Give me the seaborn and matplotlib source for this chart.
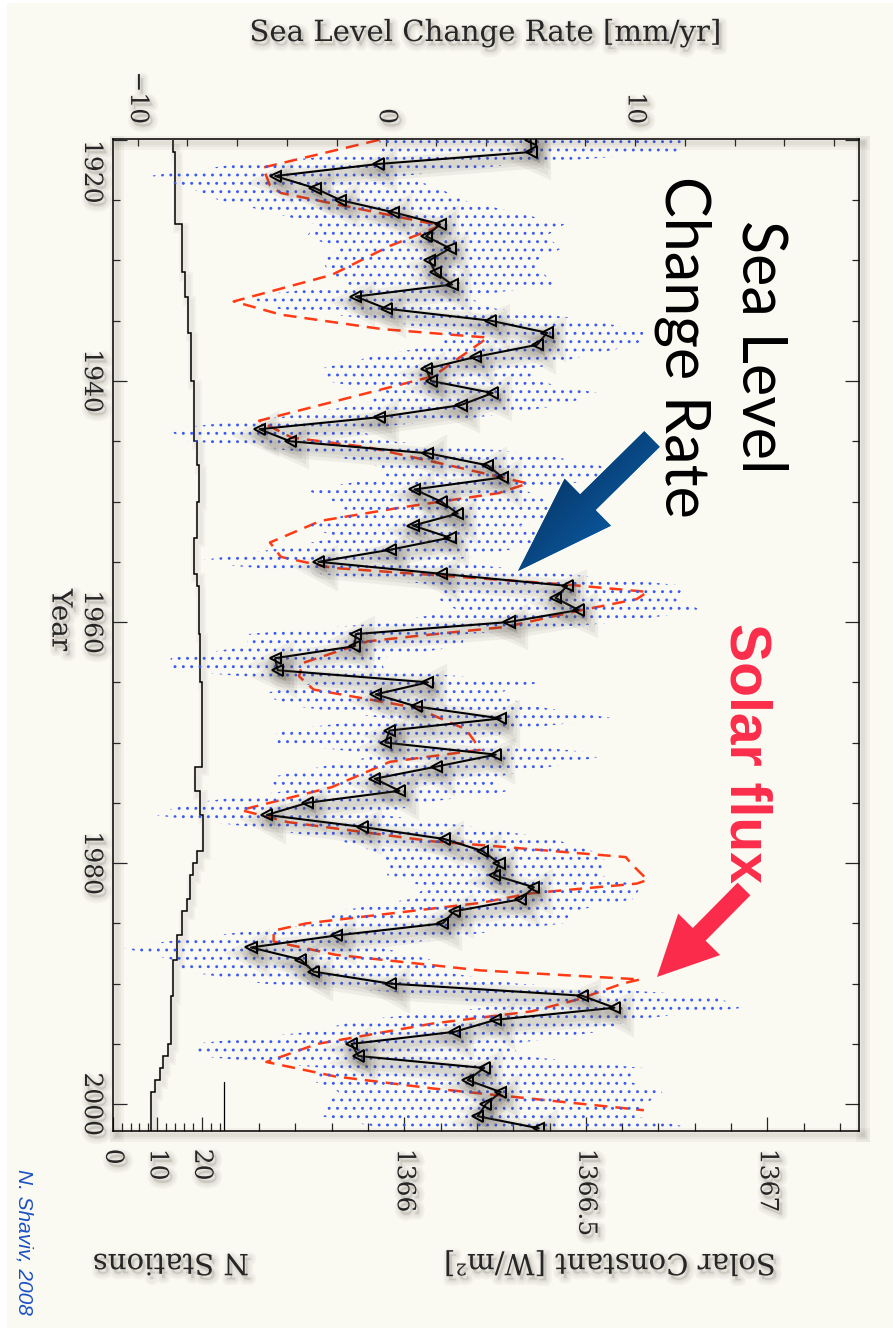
"""
Sea level change rate vs. solar constant (rotated IDL-style figure)
Libraries: numpy, matplotlib, seaborn
"""

import numpy as np
import matplotlib
matplotlib.use("Agg")
import matplotlib.pyplot as plt
import matplotlib.patheffects as pe
import matplotlib.colors as mcolors
from matplotlib.patches import FancyArrow, Rectangle
from matplotlib.colors import LinearSegmentedColormap
from matplotlib.ticker import FixedLocator, FixedFormatter, NullFormatter
import seaborn as sns

# ---- data ----
YEARS = list(range(1920, 2003))

# sea level change rate [mm/yr], one value per year
SEA_LEVEL = [5.80, 5.84, -0.33, -4.47, -2.87, -1.84, 0.27, 2.16, 1.60, 2.56,
             1.73, 1.97, 2.64, -1.23, 0.00, 4.20, 6.46, 6.06, 3.60, 1.60,
             1.80, 4.27, 3.00, -0.27, -5.10, -3.87, 1.67, 4.07, 4.67, 1.13,
             2.20, 2.87, 1.07, 2.56, 0.16, -2.73, 2.20, 7.27, 6.80, 7.73,
             4.93, -1.23, -1.27, -4.47, -4.37, 1.67, -0.43, 1.20, 4.60, 0.13,
             -0.04, 4.40, 2.00, -0.47, 0.53, -3.17, -4.80, -0.96, 2.33, 3.87,
             4.53, 4.33, 5.93, 5.40, 2.73, 2.27, -2.00, -5.44, -3.44, -2.93,
             0.16, 7.87, 9.17, 4.40, 2.73, -1.40, -1.13, 3.93, 3.27, 4.60,
             4.00, 3.67, 6.13]

# half width of the dotted uncertainty band [mm/yr]
SEA_ERR = [6.1, 6.0, 5.6, 5.1, 5.0, 4.9, 4.9, 5.0, 4.8, 4.5,
           4.3, 4.3, 4.2, 4.4, 4.4, 4.2, 4.0, 4.0, 4.2, 4.3,
           4.2, 4.2, 4.1, 4.0, 3.8, 4.0, 4.3, 4.5, 4.6, 4.4,
           4.3, 4.3, 4.3, 4.5, 4.8, 5.1, 4.9, 4.8, 4.8, 4.9,
           4.6, 4.4, 4.3, 4.2, 4.3, 4.5, 4.7, 4.8, 4.6, 4.5,
           4.5, 4.6, 4.6, 4.5, 4.5, 4.6, 4.6, 4.5, 4.4, 4.4,
           4.4, 4.3, 4.3, 4.5, 4.7, 4.9, 5.0, 5.2, 5.2, 5.1,
           5.1, 5.2, 5.2, 5.4, 5.8, 6.4, 6.5, 6.4, 6.3, 6.5,
           6.4, 6.3, 6.2]

# number of tide gauge stations, one value per year
N_STATIONS = [13.5, 14.0, 14.0, 14.0, 14.0, 14.0, 14.0, 15.5, 15.5, 15.5,
              15.5, 16.2, 16.2, 16.9, 16.9, 16.9, 17.5, 17.5, 17.5, 17.5,
              18.3, 18.3, 18.3, 18.3, 18.3, 18.9, 18.9, 19.4, 19.4, 19.4,
              18.9, 18.9, 18.9, 18.2, 18.2, 18.2, 18.9, 19.3, 19.3, 19.3,
              19.3, 19.6, 19.6, 19.6, 19.6, 20.0, 20.0, 20.0, 20.0, 20.0,
              20.0, 20.0, 18.6, 18.6, 19.6, 19.6, 20.3, 20.3, 20.3, 18.9,
              18.1, 17.3, 17.3, 16.7, 15.5, 15.5, 14.5, 14.5, 13.5, 13.5,
              13.5, 13.2, 13.2, 13.2, 13.2, 12.5, 11.3, 10.6, 9.5, 8.7,
              8.7, 8.7, 8.7]
YEAR_EDGES = YEARS + [YEARS[-1] + 1]

# solar constant [W/m^2] (red dashed curve)
SOLAR_YEARS = [1920.0, 1922.3, 1923.0, 1923.8, 1924.4, 1927.1, 1928.8, 1931.2, 1933.4, 1934.5,
               1935.7, 1936.4, 1939.6, 1943.3, 1944.7, 1945.5, 1946.7, 1948.5, 1949.3, 1950.5,
               1951.6, 1953.4, 1954.6, 1955.5, 1956.1, 1956.9, 1957.5, 1958.1, 1959.0, 1960.4,
               1961.2, 1961.6, 1963.4, 1964.5, 1965.6, 1967.1, 1968.9, 1970.6, 1971.6, 1973.7,
               1975.6, 1976.6, 1978.2, 1978.5, 1979.5, 1980.2, 1981.4, 1981.7, 1982.5, 1983.3,
               1985.0, 1985.6, 1986.5, 1987.6, 1988.9, 1989.65, 1990.0, 1991.3, 1992.3, 1993.3,
               1995.0, 1996.5, 1997.7, 1998.7, 1999.7, 2000.5]
SOLAR_FLUX = [1365.93, 1365.61, 1365.62, 1365.63, 1365.66, 1366.10, 1365.96, 1365.80, 1365.53, 1365.66,
              1365.94, 1366.23, 1366.08, 1365.60, 1365.69, 1365.90, 1366.08, 1366.34, 1366.26, 1365.99,
              1365.77, 1365.63, 1365.66, 1365.80, 1366.08, 1366.45, 1366.67, 1366.64, 1366.49, 1366.28,
              1366.02, 1365.90, 1365.72, 1365.71, 1365.75, 1366.03, 1366.17, 1366.21, 1365.96, 1365.80,
              1365.55, 1365.68, 1366.08, 1366.21, 1366.61, 1366.63, 1366.67, 1366.64, 1366.35, 1366.21,
              1365.73, 1365.64, 1365.64, 1365.81, 1366.21, 1366.65, 1366.60, 1366.48, 1366.35, 1366.08,
              1365.76, 1365.62, 1365.81, 1366.08, 1366.40, 1366.66]

# axis ticks / labels
SEA_TICKS = [-10, 0, 10]
SEA_MINOR = list(range(-10, 19, 2))
YEAR_TICKS = [1920, 1940, 1960, 1980, 2000]
YEAR_LABELS = ['', '1940', '1960', '1980', '2000']
YEAR_MINOR = list(range(1920, 2005, 5))
SOLAR_TICKS = [1366.0, 1366.5, 1367.0]
SOLAR_LABELS = ['1366', '1366.5', '1367']
SOLAR_MINOR = [1365.6, 1365.7, 1365.8, 1365.9, 1366.1, 1366.2, 1366.3, 1366.4,
               1366.6, 1366.7, 1366.8, 1366.9, 1367.1, 1367.2]
N_TICKS = [0, 10, 20]
N_LABELS = ['0', '10', '20']
N_MINOR = list(range(2, 26, 2))

W, H = 893, 1328
BG = '#fbfaf2'
SERIF = 'DejaVu Serif'


class SoftShadow(pe.AbstractPathEffect):
    """Offset, wide, faint stroke; stacking a few of them fakes a blurred shadow."""

    def __init__(self, offset=(2, -3), width=6, alpha=0.08, color='#4d4740'):
        super().__init__(offset)
        self.width = width
        self.alpha = alpha
        self.color = mcolors.to_rgba(color)

    def draw_path(self, renderer, gc, tpath, affine, rgbFace=None):
        gc0 = renderer.new_gc()
        gc0.copy_properties(gc)
        gc0.set_foreground(self.color)
        gc0.set_linewidth(self.width)
        gc0.set_alpha(self.alpha)
        gc0.set_dashes(0, None)
        face = self.color if rgbFace is not None else None
        renderer.draw_path(gc0, tpath, affine + self._offset_transform(renderer), face)
        gc0.restore()


def shadow(widths=(9, 6, 3), alpha=0.06, offset=(2, -3)):
    return [SoftShadow(offset, w, alpha) for w in widths] + [pe.Normal()]


sns.set_style("white")
plt.rcParams['font.family'] = [SERIF, 'DejaVu Sans']
plt.rcParams['font.size'] = 18
plt.rcParams['hatch.color'] = '#3a5af5'
plt.rcParams['hatch.linewidth'] = 0.9

fig = plt.figure(figsize=(W / 100, H / 100), dpi=100)
fig.patch.set_facecolor(BG)

# plot box in figure fractions
left, right, top, bottom = 112.7, 859.0, 139.3, 1130.7
ax = fig.add_axes([left / W, 1 - bottom / H, (right - left) / W, (bottom - top) / H])
ax_sol = ax.twiny()
ax_n = ax.twiny()
ax_n.set_zorder(1)
ax_sol.set_zorder(2)
ax.set_zorder(3)
for a in (ax, ax_sol, ax_n):
    a.patch.set_visible(False)

# ---- N stations (step curve) ----
ax_n.stairs(N_STATIONS, YEAR_EDGES, orientation='horizontal', baseline=None,
            color='black', linewidth=1.1,
            path_effects=shadow((7, 4), 0.05))
ax_n.axvline(25, ymin=0, ymax=0.049, color='black', linewidth=0.9)

# ---- uncertainty band (dotted) ----
lo = np.array(SEA_LEVEL) - np.array(SEA_ERR)
hi = np.array(SEA_LEVEL) + np.array(SEA_ERR)
ax.fill_betweenx(YEARS, lo, hi, facecolor='none', edgecolor='#3a5af5',
                 hatch='..', linewidth=0, zorder=1)

# ---- solar constant (red dashed) ----
sns.lineplot(x=SOLAR_FLUX, y=SOLAR_YEARS, orient='y', ax=ax_sol, color='#ff3a14',
             linewidth=1.8, linestyle=(0, (5.2, 3.2)))

# ---- sea level change rate (black, triangles) ----
sns.lineplot(x=SEA_LEVEL, y=YEARS, orient='y', ax=ax, color='black', linewidth=1.5,
             marker='<', markersize=8, markerfacecolor='none', mec='black', mew=1.4,
             zorder=4, path_effects=shadow((16, 11, 6), 0.07, (2, -4)))

# ---- limits ----
ax.set_xlim(-11, 19)
ax_sol.set_xlim(1365.1967, 1367.2526)
ax_n.set_xlim(0, 167.7)
ax.set_ylim(2002.2, 1919.95)
for a in (ax, ax_sol, ax_n):
    a.set_xlabel('')
    a.set_ylabel('')

# ---- frame + ticks ----
for a in (ax_sol, ax_n):
    for s in a.spines.values():
        s.set_visible(False)
for s in ax.spines.values():
    s.set_linewidth(1.1)
    s.set_color('black')
    s.set_path_effects(shadow((10, 6, 3), 0.05, (3, -3)))

ax.xaxis.set_ticks_position('top')
ax.xaxis.set_major_locator(FixedLocator(SEA_TICKS))
ax.xaxis.set_minor_locator(FixedLocator(SEA_MINOR))
ax.tick_params(axis='x', which='both', top=True, bottom=False, labeltop=True,
               labelbottom=False, direction='in', length=5, width=0.9,
               labelrotation=-90, pad=11)

ax.yaxis.set_major_locator(FixedLocator(YEAR_TICKS))
ax.yaxis.set_major_formatter(FixedFormatter(YEAR_LABELS))
ax.yaxis.set_minor_locator(FixedLocator(YEAR_MINOR))
ax.yaxis.set_minor_formatter(NullFormatter())
ax.tick_params(axis='y', which='both', left=True, right=True, labelleft=True,
               labelright=False, direction='in', width=0.9, labelrotation=-90, pad=7)
ax.tick_params(axis='y', which='major', length=10)
ax.tick_params(axis='y', which='minor', length=5)
for t in ax.yaxis.get_major_ticks():
    t.label1.set_verticalalignment('center')

for a, ticks, labels, minor in ((ax_sol, SOLAR_TICKS, SOLAR_LABELS, SOLAR_MINOR),
                                (ax_n, N_TICKS, N_LABELS, N_MINOR)):
    a.xaxis.set_ticks_position('bottom')
    a.xaxis.set_major_locator(FixedLocator(ticks))
    a.xaxis.set_major_formatter(FixedFormatter(labels))
    a.xaxis.set_minor_locator(FixedLocator(minor))
    a.xaxis.set_minor_formatter(NullFormatter())
    a.tick_params(axis='x', which='both', bottom=True, top=False, labelbottom=True,
                  labeltop=False, direction='in', width=0.9, labelrotation=-90, pad=13)
    a.tick_params(axis='x', which='major', length=10)
    a.tick_params(axis='x', which='minor', length=6)
    a.tick_params(axis='y', which='both', left=False, right=False,
                  labelleft=False, labelright=False)

for lab in (ax.get_xticklabels() + ax.get_yticklabels()
            + ax_sol.get_xticklabels() + ax_n.get_xticklabels()):
    lab.set_path_effects(shadow((8, 5, 2), 0.05))

# ---- overlay in pixel coordinates for titles and annotations ----
ov = fig.add_axes([0, 0, 1, 1], zorder=10)
ov.set_autoscale_on(False)
ov.set_xlim(0, W)
ov.set_ylim(H, 0)
ov.axis('off')

ov.add_patch(Rectangle((0, 0), 7, H, facecolor='white', edgecolor='none'))
ov.add_patch(Rectangle((0, 0), W, 3, facecolor='white', edgecolor='none'))

txt_fx = shadow((8, 5, 2), 0.05)
ov.text(485, 33, 'Sea Level Change Rate [mm/yr]', ha='center', va='center',
        fontsize=21, path_effects=txt_fx)
ov.text(60, 620, 'Year', rotation=-90, ha='center', va='center', fontsize=20,
        path_effects=txt_fx)
ov.text(103, 140, '1920', rotation=-90, ha='right', va='top', fontsize=18,
        path_effects=txt_fx)
ov.text(171, 1262, 'N Stations', rotation=180, ha='center', va='center',
        fontsize=21, path_effects=txt_fx)
ov.text(610, 1262, 'Solar Constant [W/m²]', rotation=180, ha='center', va='center',
        fontsize=21, path_effects=txt_fx)

ov.text(743, 347, 'Sea Level', rotation=-90, rotation_mode='anchor', ha='center',
        va='baseline', fontsize=44, family='Lato', color='black')
ov.text(665, 347, 'Change Rate', rotation=-90, rotation_mode='anchor', ha='center',
        va='baseline', fontsize=44, family='Lato', color='black')
ov.text(730, 753, 'Solar flux', rotation=-90, rotation_mode='anchor', ha='center',
        va='baseline', fontsize=41, family='Liberation Sans', fontweight='bold',
        color='#fb2d4b')
ov.text(18, 1242, 'N. Shaviv, 2008', rotation=-90, rotation_mode='anchor', ha='center',
        va='baseline', fontsize=15, family='Liberation Sans', style='italic',
        color='#1a50c4')


def draw_arrow(tail, tip, width, head_w, head_len, colors):
    arr = FancyArrow(tail[0], tail[1], tip[0] - tail[0], tip[1] - tail[1], width=width,
                     head_width=head_w, head_length=head_len, length_includes_head=True,
                     linewidth=0, facecolor=colors[-1], zorder=5)
    ov.add_patch(arr)
    if len(colors) > 1:
        xy = arr.get_xy()
        x0, x1 = xy[:, 0].min(), xy[:, 0].max()
        y0, y1 = xy[:, 1].min(), xy[:, 1].max()
        gx, gy = np.meshgrid(np.linspace(0, 1, 128), np.linspace(0, 1, 128))
        cmap = LinearSegmentedColormap.from_list('arrow', colors)
        im = ov.imshow((gx + gy) / 2, extent=(x0, x1, y1, y0), origin='upper', cmap=cmap,
                       aspect='auto', interpolation='bilinear', zorder=6)
        im.set_clip_path(arr)


draw_arrow((652, 439), (518, 571), 22, 66, 98, ['#05244c', '#0d6cbc'])
draw_arrow((744, 889), (657, 977), 18, 59, 60, ['#fb2b4b'])

ov.set_xlim(0, W)
ov.set_ylim(H, 0)

fig.savefig('out.png', dpi=100, facecolor=BG)
plt.close(fig)
